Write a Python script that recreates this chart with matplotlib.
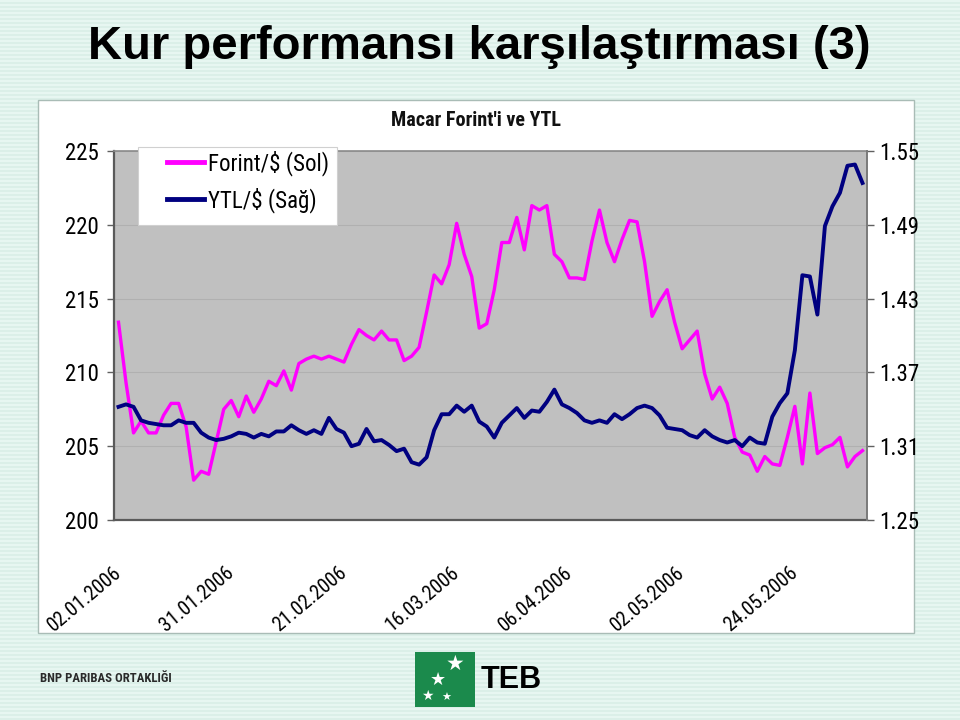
import matplotlib
matplotlib.use('Agg')
import matplotlib.pyplot as plt
import numpy as np
from matplotlib import font_manager
from matplotlib.font_manager import FontProperties
from matplotlib.patches import Rectangle
from matplotlib.lines import Line2D
from matplotlib.colors import ListedColormap

# ---------------- data ----------------
title = "Kur performansı karşılaştırması (3)"
subtitle = "Macar Forint'i ve YTL"
series_names = ["Forint/\\$ (Sol)", "YTL/\\$ (Sağ)"]

forint = [213.4, 209.3, 205.9, 206.7, 205.9, 205.9, 207.1, 207.9, 207.9, 206.3,
          202.7, 203.3, 203.1, 205.3, 207.5, 208.1, 207.0, 208.4, 207.3, 208.2,
          209.4, 209.1, 210.1, 208.8, 210.6, 210.9, 211.1, 210.9, 211.1, 210.9,
          210.7, 211.9, 212.9, 212.5, 212.2, 212.8, 212.2, 212.2, 210.8, 211.1,
          211.7, 214.1, 216.6, 216.0, 217.3, 220.1, 218.0, 216.5, 213.0, 213.3,
          215.6, 218.8, 218.8, 220.5, 218.3, 221.3, 221.0, 221.3, 218.0, 217.5,
          216.4, 216.4, 216.3, 218.9, 221.0, 218.8, 217.5, 219.0, 220.3, 220.2,
          217.5, 213.8, 214.8, 215.6, 213.4, 211.6, 212.2, 212.8, 209.9, 208.2,
          209.0, 207.9, 205.6, 204.6, 204.4, 203.3, 204.3, 203.8, 203.7, 205.6,
          207.7, 203.8, 208.6, 204.5, 204.9, 205.1, 205.6, 203.6, 204.3, 204.7]

ytl = [1.342, 1.344, 1.342, 1.331, 1.329, 1.328, 1.327, 1.327, 1.331, 1.329,
       1.329, 1.321, 1.317, 1.315, 1.316, 1.318, 1.321, 1.320, 1.317, 1.320,
       1.318, 1.322, 1.322, 1.327, 1.323, 1.320, 1.323, 1.320, 1.333, 1.324,
       1.321, 1.310, 1.312, 1.324, 1.314, 1.315, 1.311, 1.306, 1.308, 1.297,
       1.295, 1.301, 1.323, 1.336, 1.336, 1.343, 1.338, 1.343, 1.330, 1.326,
       1.317, 1.329, 1.335, 1.341, 1.333, 1.339, 1.338, 1.346, 1.356, 1.344,
       1.341, 1.337, 1.331, 1.329, 1.331, 1.329, 1.336, 1.332, 1.336, 1.341,
       1.343, 1.341, 1.335, 1.325, 1.324, 1.323, 1.319, 1.317, 1.323, 1.318,
       1.315, 1.313, 1.315, 1.310, 1.317, 1.313, 1.312, 1.334, 1.345, 1.353,
       1.388, 1.449, 1.448, 1.417, 1.489, 1.505, 1.516, 1.538, 1.539, 1.524]

tick_labels = ["02.01.2006", "31.01.2006", "21.02.2006", "16.03.2006",
               "06.04.2006", "02.05.2006", "24.05.2006"]
tick_index = [0, 15, 30, 45, 60, 75, 90]
left_ticks = [200, 205, 210, 215, 220, 225]
right_ticks = [1.25, 1.31, 1.37, 1.43, 1.49, 1.55]

# ---------------- fonts ----------------
plt.rcParams['font.family'] = ['Liberation Sans', 'DejaVu Sans']


def find_condensed(bold=False):
    prefs = ['Liberation Sans Narrow', 'Arial Narrow', 'Roboto Condensed',
             'Open Sans Condensed', 'Noto Sans Condensed', 'DejaVu Sans']
    for pref in prefs:
        for f in font_manager.fontManager.ttflist:
            fn = f.fname.lower()
            cond = ('narrow' in fn or 'condensed' in fn or
                    f.stretch in ('condensed', 'semi-condensed', 'extra-condensed'))
            if f.name.startswith(pref) and cond and f.style == 'normal':
                w = f.weight if isinstance(f.weight, int) else (700 if 'bold' in str(f.weight) else 400)
                if (w >= 600) == bold:
                    return f.fname
    return None


NARROW_FILE = find_condensed(False)
NARROW_BOLD_FILE = find_condensed(True)


def nfp(size, bold=False):
    path = NARROW_BOLD_FILE if bold else NARROW_FILE
    if path:
        return FontProperties(fname=path, size=size)
    return FontProperties(family='Liberation Sans', size=size * 0.86,
                          weight='bold' if bold else 'normal')


W, H = 960, 720
def fx(x): return x / W
def fy(y): return 1 - y / H

fig = plt.figure(figsize=(9.6, 7.2), dpi=100)
fig.patch.set_facecolor('#e4f4ee')

bg = fig.add_axes([0, 0, 1, 1], zorder=-10)
stripes = np.tile(((np.arange(H) // 2) % 2)[:, None], (1, 4))
bg.imshow(stripes, cmap=ListedColormap(['#e7f6f1', '#dbefe8']), aspect='auto',
          interpolation='nearest')
bg.axis('off')

fig.add_artist(Rectangle((fx(38), fy(633)), (914 - 38) / W, (633 - 100) / H,
                         transform=fig.transFigure, facecolor='white',
                         edgecolor='#a9bcb6', lw=1.0, zorder=-5))

x = np.arange(len(forint))

ax = fig.add_axes([fx(114), fy(520), 753 / W, 369 / H])
ax.set_facecolor('#c0c0c0')
ax.plot(x, forint, color='#ff00ff', lw=2.4)
ax.set_xlim(-0.6, len(forint) - 1 + 0.6)
ax.set_ylim(200, 225)
ax.set_yticks(left_ticks)
ax.set_yticklabels([str(v) for v in left_ticks])
for t in ax.get_yticklabels():
    t.set_fontproperties(nfp(16.5))
ax.grid(axis='y', color='#b0b0b0', lw=0.8)
ax.set_axisbelow(True)
ax.set_xticks(tick_index)
ax.set_xticklabels(tick_labels, rotation=40, ha='right', va='center',
                   rotation_mode='anchor')
for t in ax.get_xticklabels():
    t.set_fontproperties(nfp(14.5))
ax.tick_params(axis='x', length=0, pad=36)
ax.tick_params(axis='y', direction='out', length=5, width=1, color='#606060', pad=6)

ax2 = ax.twinx()
ax2.plot(x, ytl, color='#000080', lw=2.8)
ax2.set_ylim(1.25, 1.55)
ax2.set_yticks(right_ticks)
ax2.set_yticklabels([f"{v:.2f}" for v in right_ticks])
for t in ax2.get_yticklabels():
    t.set_fontproperties(nfp(16.5))
ax2.tick_params(axis='y', direction='out', length=5, width=1, color='#606060', pad=4)

for a in (ax, ax2):
    for s in a.spines.values():
        s.set_visible(False)
ax.spines['left'].set_visible(True)
ax.spines['left'].set_color('#5a5a5a'); ax.spines['left'].set_linewidth(1.6)
ax.spines['bottom'].set_visible(True)
ax.spines['bottom'].set_color('#5a5a5a'); ax.spines['bottom'].set_linewidth(1.6)
ax.spines['top'].set_visible(True)
ax.spines['top'].set_color('#8a8a8a'); ax.spines['top'].set_linewidth(1.2)
ax2.spines['right'].set_visible(True)
ax2.spines['right'].set_color('#7a7a7a'); ax2.spines['right'].set_linewidth(1.4)

fig.add_artist(Rectangle((fx(138), fy(225)), (337 - 138) / W, (225 - 147) / H,
                         transform=fig.transFigure, facecolor='white',
                         edgecolor='#d0d0d0', lw=0.8, zorder=4))
handles = [Line2D([], [], color='#ff00ff', lw=3.5),
           Line2D([], [], color='#000080', lw=3.5)]
leg = fig.legend(handles, series_names, loc='upper left',
                 bbox_to_anchor=(fx(167), fy(150)), frameon=False,
                 borderaxespad=0, borderpad=0, handlelength=1.6,
                 handletextpad=0.2, labelspacing=0.5,
                 prop=nfp(16.5))
leg.set_zorder(6)

fig.text(fx(479), fy(47), title, ha='center', va='center', fontsize=34,
         fontweight='bold', color='black')
fig.text(fx(476), fy(121), subtitle, ha='center', va='center',
         fontproperties=nfp(14.5, bold=True), color='#111111')

fig.text(fx(40), fy(678), 'BNP PARIBAS ORTAKLIĞI', ha='left', va='center',
         fontproperties=nfp(9.2, bold=True), color='#2a2a2a')
fig.add_artist(Rectangle((fx(415), fy(707)), 60 / W, 55 / H,
                         transform=fig.transFigure, facecolor='#1b8a4c',
                         edgecolor='none', zorder=2))
for (sx, sy, ss) in [(455, 664, 15), (438, 680, 13), (427, 696, 10), (446, 698, 8)]:
    fig.text(fx(sx), fy(sy), '★', ha='center', va='center', fontsize=ss,
             color='white', family='DejaVu Sans', zorder=3)
fig.text(fx(481), fy(680), 'TEB', ha='left', va='center', fontsize=22,
         fontweight='bold', color='black')

fig.savefig('out.png', dpi=100, facecolor=fig.get_facecolor())
